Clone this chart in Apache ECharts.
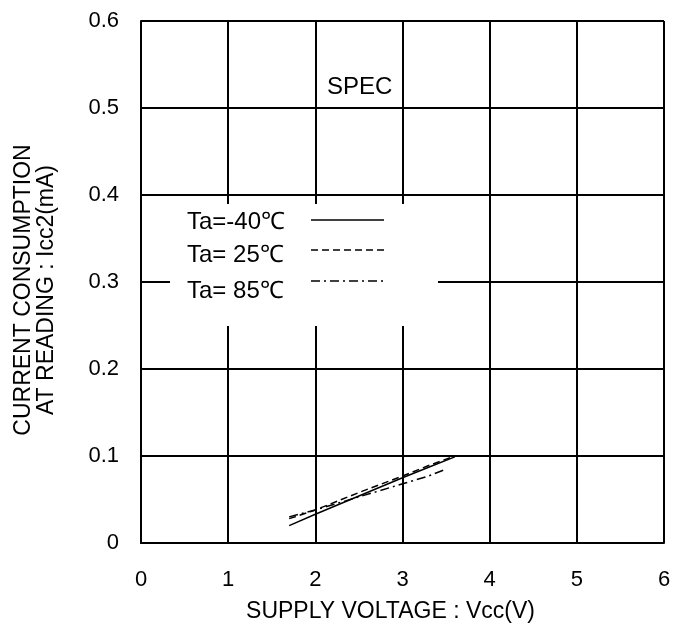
<!DOCTYPE html>
<html>
<head>
<meta charset="utf-8">
<script src="https://cdn.jsdelivr.net/npm/echarts@6/dist/echarts.min.js"></script>
<style>
  html, body { margin: 0; padding: 0; background: #fff; }
  #chart { width: 689px; height: 629px; }
</style>
</head>
<body>
<div id="chart"></div>
<script>
  // supply voltage (V)
  var vcc = [1.7, 2.0, 2.5, 3.0, 3.3, 3.6];
  var vcc85 = [1.7, 2.0, 2.5, 3.0, 3.3, 3.5];
  // current consumption (mA)
  var icc_m40 = [0.020, 0.033, 0.054, 0.075, 0.087, 0.099];
  var icc_25 = [0.028, 0.038, 0.058, 0.077, 0.089, 0.100];
  var icc_85 = [0.030, 0.038, 0.053, 0.068, 0.077, 0.085];
  var seriesNames = ['Ta=-40℃', 'Ta= 25℃', 'Ta= 85℃'];

  var font = 'Liberation Sans, Arial, sans-serif';

  function pairs(xs, ys) {
    return xs.map(function(x, i) { return [x, ys[i]]; });
  }

  var dashTypes = ['solid', [7, 4], [9, 4, 2, 4]];
  var dataSets = [pairs(vcc, icc_m40), pairs(vcc, icc_25), pairs(vcc85, icc_85)];

  var series = dataSets.map(function(d, i) {
    return {
      name: seriesNames[i],
      type: 'line',
      data: d,
      symbol: 'none',
      lineStyle: { color: '#000', width: 1.5, type: dashTypes[i] },
      z: 5
    };
  });

  // legend drawn as graphic so the text sits left of the line sample
  var legendGraphics = [{
    type: 'rect',
    shape: { x: 170, y: 204, width: 268, height: 122 },
    style: { fill: '#fff' },
    z: 10
  }];
  var textRows = [222, 255, 291];
  var lineRows = [220, 250, 281];
  seriesNames.forEach(function(n, i) {
    legendGraphics.push({
      type: 'text',
      z: 11,
      style: {
        x: 187, y: textRows[i], text: n, fill: '#000',
        font: '24px ' + font, textVerticalAlign: 'middle'
      }
    });
    legendGraphics.push({
      type: 'line',
      z: 11,
      shape: { x1: 311, y1: lineRows[i], x2: 384, y2: lineRows[i] },
      style: { stroke: '#000', lineWidth: 1.5, lineDash: dashTypes[i] === 'solid' ? null : dashTypes[i] }
    });
  });
  legendGraphics.push({
    type: 'text',
    z: 11,
    style: {
      x: 327, y: 87, text: 'SPEC', fill: '#000',
      font: '24px ' + font, textVerticalAlign: 'middle'
    }
  });

  var chart = echarts.init(document.getElementById('chart'));
  chart.setOption({
    animation: false,
    grid: { left: 141, top: 21, width: 523, height: 522, outerBoundsMode: 'none' },
    xAxis: {
      type: 'value',
      min: 0, max: 6, interval: 1,
      name: 'SUPPLY VOLTAGE : Vcc(V)',
      nameLocation: 'middle',
      nameGap: 57,
      nameTextStyle: { color: '#000', fontSize: 23, fontFamily: font, padding: [0, 24, 0, 0] },
      axisLine: { lineStyle: { color: '#000', width: 2 } },
      axisTick: { show: false },
      axisLabel: { color: '#000', fontSize: 22, fontFamily: font, margin: 26 },
      splitLine: { show: true, lineStyle: { color: '#000', width: 2 } }
    },
    yAxis: {
      type: 'value',
      min: 0, max: 0.6, interval: 0.1,
      name: 'CURRENT CONSUMPTION\nAT READING : Icc2(mA)',
      nameLocation: 'middle',
      nameGap: 83,
      nameTextStyle: { color: '#000', fontSize: 23, fontFamily: font, lineHeight: 23, padding: [0, 16, 0, 0] },
      axisLine: { show: true, lineStyle: { color: '#000', width: 2 } },
      axisTick: { show: false },
      axisLabel: {
        color: '#000', fontSize: 22, fontFamily: font, margin: 22,
        formatter: function(v) { return v === 0 ? '0' : v.toFixed(1); }
      },
      splitLine: { show: true, lineStyle: { color: '#000', width: 2 } }
    },
    graphic: legendGraphics,
    series: series
  });
</script>
</body>
</html>
